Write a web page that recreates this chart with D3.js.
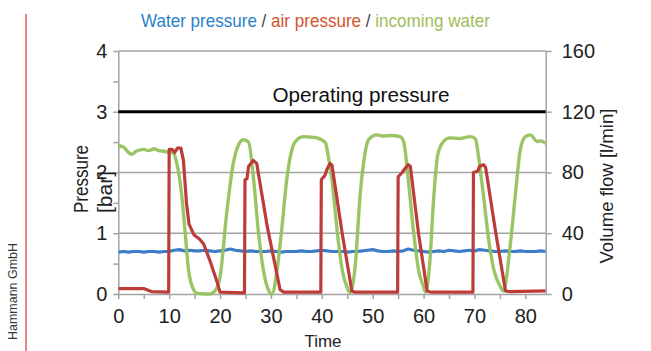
<!DOCTYPE html>
<html><head><meta charset="utf-8">
<script src="https://cdn.jsdelivr.net/npm/d3@7"></script>
<style>
html,body{margin:0;padding:0;background:#fff;}
svg{display:block;font-family:"Liberation Sans",Arial,sans-serif;}
</style></head>
<body><svg id="c" width="651" height="351"></svg>
<script>
// ---- data ----
const xTicks = [0,10,20,30,40,50,60,70,80];
const leftTicks = [0,1,2,3,4];
const rightTicks = [0,40,80,120,160];
const operatingPressure = 3;
const titleParts = ["Water pressure"," / ","air pressure"," / ","incoming water"];

// air pressure [bar]
const redT = [0,5,6.5,9.9,10.0,10.6,11.1,11.6,12.3,12.8,13.4,13.9,14.9,16.0,16.8,18.0,19.4,20.0,24.8,
  24.9,25.3,25.6,26.5,27.2,29.3,31.8,32.5,39.8,
  39.9,40.6,41.0,41.6,42.0,44.0,45.9,46.5,54.9,
  55.0,55.8,56.2,57.0,57.4,59.0,60.7,61.5,69.7,
  69.8,70.6,71.0,71.8,72.2,74.2,76.1,77.0,84];
const redV = [0.09,0.09,0.04,0.03,2.38,2.38,2.33,2.40,2.40,2.20,1.50,1.15,0.97,0.90,0.82,0.55,0.20,0.03,0.02,
  1.88,1.90,2.10,2.20,2.15,1.10,0.07,0.03,0.03,
  1.88,1.95,2.05,2.15,2.12,1.00,0.05,0.03,0.03,
  1.93,2.00,2.05,2.13,2.10,1.00,0.05,0.03,0.03,
  2.00,2.02,2.10,2.13,2.08,1.00,0.05,0.04,0.05];

// incoming water [l/min]
const greenT = [0,1,2,2.6,3.5,5,6,7,8,9,10,10.8,11.5,12.5,13.1,13.8,14.8,15.5,18,19,20,21.3,22.6,23.6,24.6,25.6,
  26.6,27.5,28.5,29.5,30.2,31.2,32.1,33.1,34.1,35.1,36.4,38,39,40.7,
  41.2,42.0,43.0,44.0,45.0,45.5,46.6,47.5,48.2,49.2,50.8,52,53.4,55.4,56.1,
  57.0,58.0,59.0,60.0,60.4,61.2,62.0,62.8,63.9,65.2,67,69.2,70.2,
  70.8,71.8,72.8,73.8,75.1,75.7,77,78,79,80,81,82.3,83,84];
const greenV = [97.6,96.8,93.2,92.0,94.0,95.2,94.4,95.6,94.4,94.0,93.2,92.8,86.0,64.0,42.0,16.0,2.8,0.4,0,2.0,11.2,53.2,86.0,98.0,101.6,100.0,
  75.2,42.0,16.0,2.8,0,16.0,42.0,75.2,94.8,101.6,103.6,103.2,102.8,99.6,
  92.0,75.2,42.0,16.0,4.0,0.8,20.0,64.0,86.0,101.6,104.8,104.0,104.4,103.6,100.0,
  75.2,42.0,16.0,4.8,1.2,20.0,64.0,92.0,100.4,102.8,102.4,103.6,102.0,
  90.4,64.0,35.6,16.0,4.8,2.0,31.2,64.0,94.8,103.6,104.8,100.4,100.8,99.2];

// water pressure [bar], one reading per second from t = 0
const blueV = [0.69,0.70,0.69,0.70,0.70,0.69,0.70,0.70,0.69,0.70,
  0.70,0.72,0.73,0.71,0.72,0.71,0.71,0.72,0.71,0.70,
  0.71,0.72,0.74,0.72,0.71,0.70,0.71,0.70,0.70,0.70,
  0.71,0.70,0.69,0.70,0.70,0.70,0.71,0.70,0.70,0.71,
  0.72,0.71,0.70,0.70,0.70,0.69,0.70,0.70,0.71,0.72,
  0.73,0.71,0.70,0.70,0.71,0.70,0.71,0.74,0.72,0.71,
  0.70,0.69,0.70,0.71,0.70,0.72,0.71,0.70,0.71,0.72,
  0.71,0.73,0.72,0.71,0.70,0.70,0.71,0.70,0.70,0.71,
  0.70,0.70,0.70,0.71,0.70];

// ---- drawing ----
const svg = d3.select("#c");
const L = 118.3, R = 545.7, T = 51, B = 294;
const x = d3.scaleLinear([0,84],[L,R]);
const yL = d3.scaleLinear([0,4],[B,T]);
const yR = d3.scaleLinear([0,160],[B,T]);
const gridC = "#a3a3a3";

// left red rule + company label
svg.append("line").attr("x1",26).attr("x2",26).attr("y1",14).attr("y2",351)
  .attr("stroke","#e2646a").attr("stroke-width",1.6);
svg.append("text").attr("transform","translate(17,291.5) rotate(-90)")
  .attr("text-anchor","middle").attr("font-size",12.5).attr("fill","#333")
  .attr("textLength",97).attr("lengthAdjust","spacingAndGlyphs").text("Hammann GmbH");

// title: one text, condensed horizontally to the reference width
const titleColors = ["#2a7fc9","#444","#d0542c","#444","#9dbd5a"];
const title = svg.append("text").attr("font-size",19).attr("x",0).attr("y",0);
title.selectAll("tspan").data(titleParts).join("tspan")
  .attr("fill",(d,i)=>titleColors[i]).style("white-space","pre").text(d=>d);
const tw = title.node().getComputedTextLength();
title.attr("transform",`translate(141,27) scale(${349/tw},1)`);

// gridlines
svg.append("g").selectAll("line").data(leftTicks.filter(d => d!==0 && d!==operatingPressure)).join("line")
  .attr("x1",L).attr("x2",R).attr("y1",d=>yL(d)).attr("y2",d=>yL(d))
  .attr("stroke",gridC).attr("stroke-width",1.5);

// axes
function style(g){
  g.select(".domain").attr("stroke",gridC).attr("stroke-width",1.5);
  g.selectAll(".tick line").attr("stroke",gridC).attr("stroke-width",1.5);
  g.selectAll(".tick text").attr("fill","#222").attr("font-size",20)
   .attr("font-family","'Liberation Sans',Arial,sans-serif");
}
const leftAll = d3.range(0,8.5).map(i=>i/2);
svg.append("g").attr("transform",`translate(${L},0)`)
  .call(d3.axisLeft(yL).tickValues(leftAll).tickSize(5).tickPadding(6).tickSizeOuter(0)
    .tickFormat(d => Number.isInteger(d) ? d : ""))
  .call(style);
svg.append("g").attr("transform",`translate(${R},0)`)
  .call(d3.axisRight(yR).tickValues(rightTicks).tickSize(6).tickPadding(10).tickSizeOuter(0))
  .call(style);
const xAll = d3.range(0,17).map(i=>i*5);
svg.append("g").attr("transform",`translate(0,${B})`)
  .call(d3.axisBottom(x).tickValues(xAll).tickSize(5).tickPadding(10).tickSizeOuter(0)
    .tickFormat(d => xTicks.includes(d) ? d : ""))
  .call(style);

// operating pressure
svg.append("line").attr("x1",L).attr("x2",R).attr("y1",yL(operatingPressure)).attr("y2",yL(operatingPressure))
  .attr("stroke","#000").attr("stroke-width",3.2);
svg.append("text").attr("x",361).attr("y",102).attr("text-anchor","middle")
  .attr("font-size",20).attr("fill","#111").attr("textLength",177).attr("lengthAdjust","spacingAndGlyphs")
  .text("Operating pressure");

// series
svg.append("clipPath").attr("id","pc").append("rect")
  .attr("x",L).attr("y",T-5).attr("width",R-L).attr("height",B-T+7);
const gS = svg.append("g").attr("clip-path","url(#pc)");
const blueData = blueV.map((v,i)=>[i,v]);
gS.append("path").datum(blueData)
  .attr("d",d3.line().x(d=>x(d[0])).y(d=>yL(d[1])))
  .attr("fill","none").attr("stroke","#3d7cc6").attr("stroke-width",3.2).attr("stroke-linejoin","round");
gS.append("path").datum(greenT.map((t,i)=>[t,greenV[i]]))
  .attr("d",d3.line().x(d=>x(d[0])).y(d=>yR(d[1])).curve(d3.curveMonotoneX))
  .attr("fill","none").attr("stroke","#94c25c").attr("stroke-width",3.4).attr("stroke-linejoin","round").attr("opacity",0.95);
gS.append("path").datum(redT.map((t,i)=>[t,redV[i]]))
  .attr("d",d3.line().x(d=>x(d[0])).y(d=>yL(d[1])))
  .attr("fill","none").attr("stroke","#bd3c3a").attr("stroke-width",3.2).attr("stroke-linejoin","round");

// axis titles
const pt = svg.append("text").attr("transform","translate(88,213) rotate(-90)")
  .attr("font-size",21).attr("fill","#222");
pt.append("tspan").attr("x",0).attr("y",0).attr("textLength",68).attr("lengthAdjust","spacingAndGlyphs").text("Pressure");
pt.append("tspan").attr("x",0).attr("y",24).attr("textLength",42).attr("lengthAdjust","spacingAndGlyphs").text("[bar]");
svg.append("text").attr("transform","translate(613,186) rotate(-90)").attr("text-anchor","middle")
  .attr("font-size",19).attr("fill","#222").attr("textLength",155).attr("lengthAdjust","spacingAndGlyphs")
  .text("Volume flow [l/min]");
svg.append("text").attr("x",323).attr("y",347).attr("text-anchor","middle")
  .attr("font-size",17).attr("fill","#222").attr("textLength",37).attr("lengthAdjust","spacingAndGlyphs").text("Time");
</script></body></html>
